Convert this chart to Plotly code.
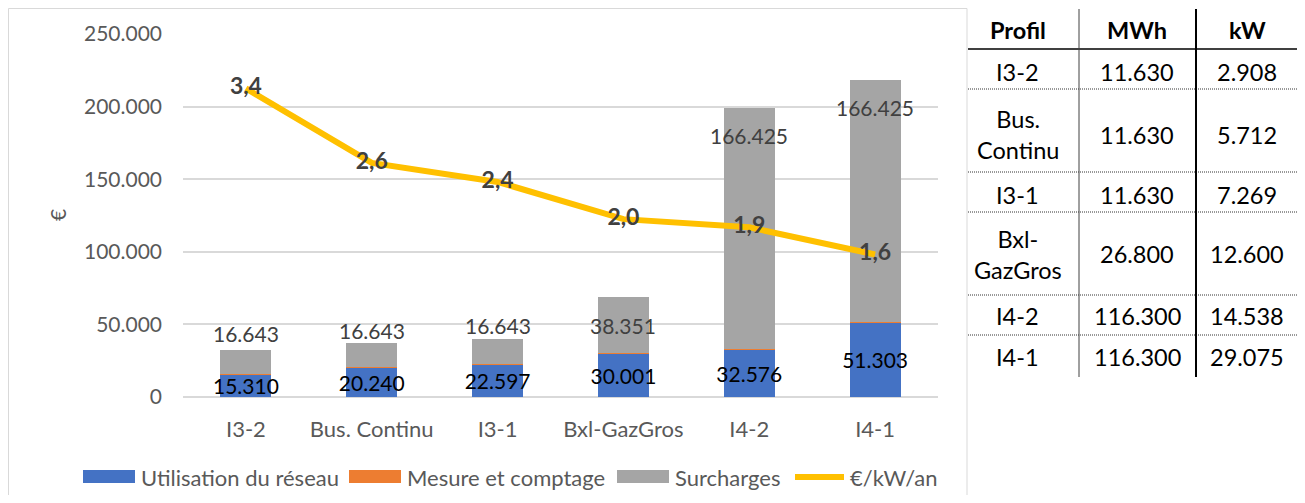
import plotly.graph_objects as go

# données du graphique
profils = ["I3-2", "Bus. Continu", "I3-1", "Bxl-GazGros", "I4-2", "I4-1"]
utilisation = [15310, 20240, 22597, 30001, 32576, 51303]
mesure = [400, 400, 400, 500, 300, 600]
surcharges = [16643, 16643, 16643, 38351, 166425, 166425]
eur_kw_an = [3.40, 2.58, 2.37, 1.96, 1.87, 1.57]

# données du tableau
table_profils = ["I3-2", "Bus.<br>Continu", "I3-1", "Bxl-<br>GazGros", "I4-2", "I4-1"]
table_mwh = [11630, 11630, 11630, 26800, 116300, 116300]
table_kw = [2908, 5712, 7269, 12600, 14538, 29075]

# la page a une marge de 8 px autour de la figure
OFF = 8
W, H = 1305 - 2 * OFF, 503 - 2 * OFF
FONT = "Lato"
GREY_TXT = "#595959"


def px(x):
    return (x - OFF) / W


def py(y):
    return 1 - (y - OFF) / H


def fmt(v):
    return f"{v:,}".replace(",", ".")


fig = go.Figure()

fig.add_trace(go.Bar(
    x=profils, y=utilisation, name="Utilisation du réseau",
    marker=dict(color="#4472C4", line_width=0),
    texttemplate="%{y:,.0f}", textposition="inside", insidetextanchor="middle",
    constraintext="none", textangle=0,
    textfont=dict(family=FONT, size=21, color="black"),
))
fig.add_trace(go.Bar(
    x=profils, y=mesure, name="Mesure et comptage",
    marker=dict(color="#ED7D31", line_width=0),
))
fig.add_trace(go.Bar(
    x=profils, y=surcharges, name="Surcharges",
    marker=dict(color="#A5A5A5", line_width=0),
))
fig.add_trace(go.Scatter(
    x=profils, y=eur_kw_an, name="€/kW/an", yaxis="y2",
    mode="lines+text", line=dict(color="#FFC000", width=6),
    texttemplate="<b>%{y:.1f}</b>", textposition="middle center",
    textfont=dict(family=FONT, size=23, color="#404040"),
    cliponaxis=False,
))

annotations = []
shapes = []

# étiquettes des surcharges (au-dessus des petites barres, dans le haut des grandes)
label_shift = [17, 12, 14, -28, -28, -28]
for i, p in enumerate(profils):
    total = utilisation[i] + mesure[i] + surcharges[i]
    annotations.append(dict(
        x=p, y=total, xref="x", yref="y", text=fmt(surcharges[i]),
        showarrow=False, yshift=label_shift[i], xanchor="center", yanchor="middle",
        font=dict(family=FONT, size=21, color="#404040"),
    ))

# titre de l'axe
annotations.append(dict(
    x=px(57), y=py(215), xref="paper", yref="paper", text="€", textangle=-90,
    xanchor="center", yanchor="middle",
    showarrow=False, font=dict(family=FONT, size=21, color=GREY_TXT),
))

# cadre du graphique
shapes.append(dict(type="rect", xref="paper", yref="paper",
                   x0=px(8.5), x1=px(967), y0=py(540), y1=py(8.5),
                   line=dict(color="#D9D9D9", width=1)))

# légende
legend_items = [
    ("Utilisation du réseau", "#4472C4", 83, "bar"),
    ("Mesure et comptage", "#ED7D31", 349, "bar"),
    ("Surcharges", "#A5A5A5", 617, "bar"),
    ("€/kW/an", "#FFC000", 792, "line"),
]
for label, color, x0, kind in legend_items:
    if kind == "bar":
        shapes.append(dict(type="rect", xref="paper", yref="paper",
                           x0=px(x0), x1=px(x0 + 52), y0=py(483), y1=py(470),
                           fillcolor=color, line_width=0))
    else:
        shapes.append(dict(type="line", xref="paper", yref="paper",
                           x0=px(x0 + 3), x1=px(x0 + 52), y0=py(477), y1=py(477),
                           line=dict(color=color, width=6)))
    annotations.append(dict(
        x=px(x0 + 56), y=py(477), xref="paper", yref="paper", text=label,
        xanchor="left", yanchor="middle", showarrow=False,
        font=dict(family=FONT, size=22, color=GREY_TXT),
    ))

# tableau
tfont = dict(family=FONT, size=23.5, color="black")
col_x = [1018, 1137, 1247]
for txt, cx in zip(["Profil", "MWh", "kW"], col_x):
    annotations.append(dict(x=px(cx), y=py(30), xref="paper", yref="paper",
                            text=f"<b>{txt}</b>", showarrow=False, font=tfont,
                            xanchor="center", yanchor="middle"))
row_y = [72, 135, 195, 254, 316, 357]
for i, ry in enumerate(row_y):
    for txt, cx in zip([table_profils[i], fmt(table_mwh[i]), fmt(table_kw[i])], col_x):
        annotations.append(dict(x=px(cx), y=py(ry), xref="paper", yref="paper",
                                text=txt, showarrow=False, font=tfont,
                                xanchor="center", yanchor="middle"))
shapes.append(dict(type="line", xref="paper", yref="paper",
                   x0=px(968), x1=px(1300), y0=py(49), y1=py(49),
                   line=dict(color="black", width=1.5)))
for yl in [89, 172, 212, 295, 335]:
    shapes.append(dict(type="line", xref="paper", yref="paper",
                       x0=px(968), x1=px(1300), y0=py(yl), y1=py(yl),
                       line=dict(color="#333333", width=1, dash="1px,1px")))
shapes.append(dict(type="line", xref="paper", yref="paper",
                   x0=px(1079), x1=px(1079), y0=py(9), y1=py(377),
                   line=dict(color="#404040", width=1)))
shapes.append(dict(type="line", xref="paper", yref="paper",
                   x0=px(1196), x1=px(1196), y0=py(9), y1=py(377),
                   line=dict(color="black", width=2)))

fig.update_layout(
    template="none",
    width=W, height=H,
    margin=dict(l=0, r=0, t=0, b=0, autoexpand=False),
    paper_bgcolor="white", plot_bgcolor="white",
    barmode="stack", bargap=0.595,
    separators=",.",
    showlegend=False,
    font=dict(family=FONT, size=21, color=GREY_TXT),
    xaxis=dict(domain=[px(183), px(938)], showgrid=False, showline=False,
               automargin=False, ticks="", ticklabelstandoff=17,
               tickfont=dict(family=FONT, size=22, color=GREY_TXT)),
    yaxis=dict(domain=[py(397), py(34)], range=[0, 250000],
               tickvals=[0, 50000, 100000, 150000, 200000, 250000],
               tickformat=",.0f", showgrid=True, gridcolor="#D9D9D9", gridwidth=1.5,
               zeroline=True, zerolinecolor="#D9D9D9", zerolinewidth=2,
               automargin=False, showline=False, ticks="", ticklabelstandoff=20,
               tickfont=dict(family=FONT, size=21, color=GREY_TXT)),
    yaxis2=dict(overlaying="y", side="right", range=[0, 4], visible=False,
                showgrid=False, automargin=False),
    annotations=annotations,
    shapes=shapes,
)

fig.write_html("out.html")
